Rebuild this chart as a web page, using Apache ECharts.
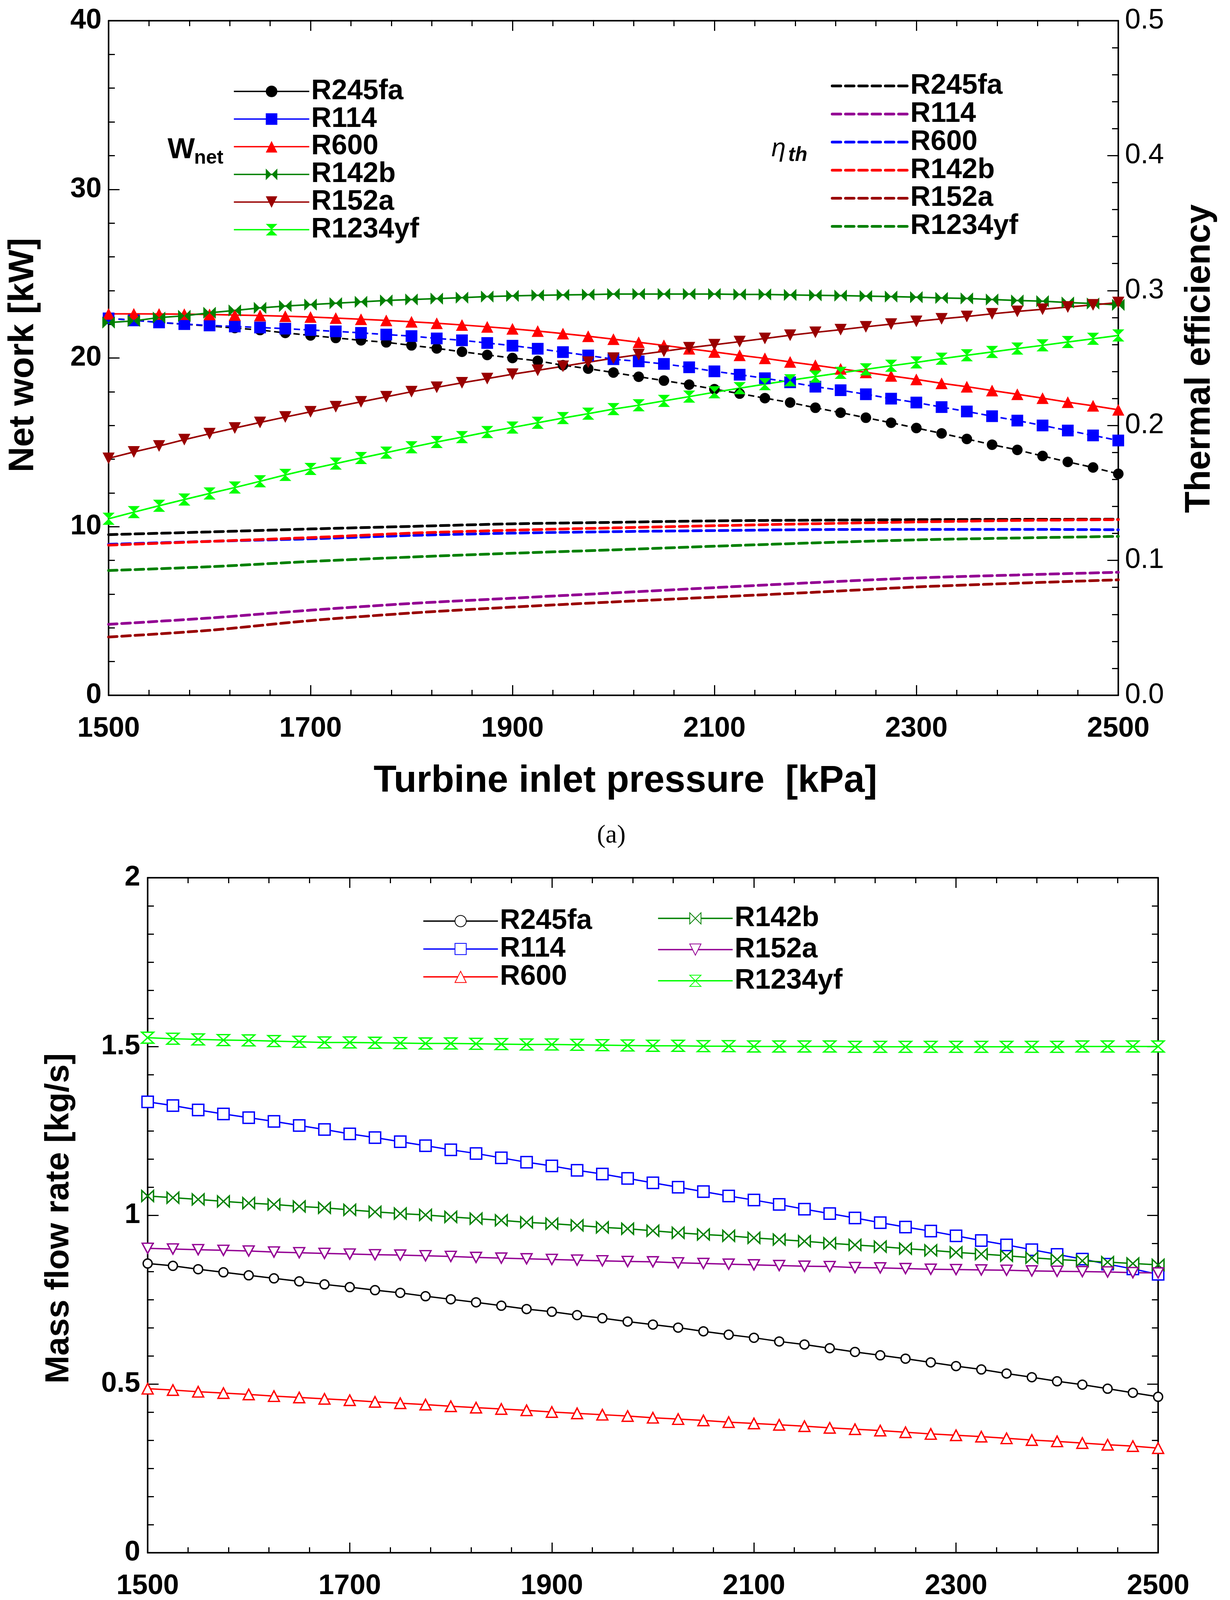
<!DOCTYPE html>
<html>
<head>
<meta charset="utf-8">
<style>
html,body{margin:0;padding:0;background:#fff;}
#c{width:3149px;height:4415px;}
</style>
<script src="https://cdn.jsdelivr.net/npm/echarts@6/dist/echarts.min.js"></script>
</head>
<body>
<div id="c"></div>
<script>
// ---------- data ----------
const pressure = [1500,1525,1550,1575,1600,1625,1650,1675,1700,1725,1750,1775,1800,1825,1850,1875,1900,1925,1950,1975,
  2000,2025,2050,2075,2100,2125,2150,2175,2200,2225,2250,2275,2300,2325,2350,2375,2400,2425,2450,2475,2500];
const pressureEta = [1500,1600,1700,1800,1900,2000,2100,2200,2300,2400,2500];
const refrigerants = ['R245fa','R114','R600','R142b','R152a','R1234yf'];

// (a) net work [kW]
const W_R245fa = [22.35,22.25,22.11,22.0,21.9,21.78,21.66,21.49,21.34,21.19,21.05,20.93,20.75,20.57,20.37,20.18,20.0,19.83,19.57,19.37,
  19.14,18.89,18.66,18.42,18.15,17.89,17.62,17.36,17.05,16.76,16.46,16.16,15.85,15.53,15.2,14.86,14.55,14.19,13.84,13.51,13.13];
const W_R114 = [22.35,22.23,22.11,22.01,21.93,21.87,21.81,21.74,21.66,21.58,21.49,21.39,21.3,21.16,21.05,20.89,20.73,20.55,20.35,20.15,
  19.93,19.8,19.65,19.45,19.21,19.01,18.8,18.56,18.3,18.09,17.85,17.59,17.36,17.09,16.83,16.55,16.29,16.0,15.7,15.41,15.11];
const W_R600 = [22.62,22.62,22.61,22.6,22.58,22.55,22.52,22.48,22.43,22.37,22.3,22.23,22.15,22.06,21.96,21.85,21.73,21.6,21.45,21.29,
  21.12,20.93,20.75,20.55,20.36,20.16,19.98,19.77,19.57,19.36,19.15,18.94,18.73,18.5,18.3,18.07,17.85,17.62,17.38,17.17,16.93];
const W_R142b = [22.1,22.2,22.4,22.5,22.68,22.82,22.97,23.08,23.17,23.25,23.33,23.41,23.47,23.52,23.58,23.64,23.68,23.72,23.74,23.76,
  23.79,23.79,23.79,23.79,23.79,23.77,23.77,23.74,23.72,23.7,23.67,23.64,23.61,23.56,23.53,23.47,23.41,23.37,23.29,23.23,23.15];
const W_R152a = [14.05,14.43,14.78,15.16,15.51,15.85,16.18,16.5,16.81,17.11,17.4,17.7,18.0,18.26,18.53,18.78,19.04,19.27,19.51,19.75,
  19.99,20.2,20.4,20.61,20.79,20.97,21.16,21.35,21.52,21.68,21.85,22.01,22.17,22.32,22.46,22.62,22.76,22.89,23.02,23.15,23.29];
const W_R1234yf = [10.47,10.86,11.24,11.61,11.97,12.32,12.69,13.07,13.42,13.74,14.07,14.39,14.71,15.02,15.31,15.61,15.88,16.16,16.44,16.7,
  16.97,17.2,17.46,17.71,17.97,18.21,18.45,18.68,18.9,19.12,19.33,19.54,19.74,19.96,20.16,20.36,20.56,20.75,20.95,21.14,21.34];

// (a) thermal efficiency [-]
const eta_R245fa = [0.1191,0.1211,0.1233,0.1252,0.1271,0.1282,0.1293,0.1298,0.1302,0.1304,0.1305];
const eta_R114   = [0.0526,0.0573,0.0631,0.0681,0.0720,0.0759,0.0798,0.0836,0.0870,0.0892,0.0912];
const eta_R600   = [0.1119,0.1141,0.1160,0.1185,0.1202,0.1213,0.1221,0.1228,0.1230,0.1230,0.1227];
const eta_R142b  = [0.1113,0.1141,0.1169,0.1202,0.1224,0.1241,0.1257,0.1272,0.1285,0.1296,0.1302];
const eta_R152a  = [0.0432,0.0482,0.0554,0.0610,0.0654,0.0692,0.0728,0.0764,0.0803,0.0831,0.0856];
const eta_R1234yf= [0.0925,0.0953,0.0992,0.1025,0.1053,0.1078,0.1105,0.1130,0.1152,0.1166,0.1178];

// (b) mass flow rate [kg/s]
const m_R245fa = [0.857,0.850,0.840,0.831,0.822,0.813,0.804,0.795,0.787,0.778,0.770,0.760,0.751,0.742,0.732,0.722,0.714,0.704,0.695,0.685,
  0.676,0.667,0.656,0.646,0.637,0.626,0.617,0.606,0.595,0.585,0.575,0.564,0.553,0.543,0.531,0.520,0.508,0.498,0.486,0.474,0.462];
const m_R114 = [1.336,1.325,1.312,1.300,1.289,1.278,1.266,1.254,1.241,1.230,1.218,1.206,1.194,1.183,1.170,1.157,1.146,1.133,1.122,1.109,
  1.096,1.083,1.070,1.057,1.045,1.032,1.018,1.005,0.992,0.978,0.965,0.953,0.939,0.925,0.912,0.898,0.884,0.870,0.855,0.841,0.825];
const m_R600 = [0.486,0.482,0.477,0.473,0.469,0.464,0.460,0.456,0.452,0.447,0.443,0.439,0.434,0.430,0.426,0.422,0.417,0.413,0.409,0.405,
  0.400,0.396,0.392,0.387,0.383,0.379,0.375,0.370,0.366,0.362,0.357,0.352,0.348,0.344,0.339,0.334,0.330,0.325,0.320,0.316,0.310];
const m_R142b = [1.057,1.052,1.047,1.041,1.036,1.032,1.026,1.022,1.016,1.010,1.005,1.001,0.995,0.990,0.985,0.979,0.975,0.970,0.964,0.960,
  0.954,0.948,0.943,0.939,0.933,0.928,0.923,0.917,0.912,0.907,0.901,0.896,0.890,0.885,0.880,0.874,0.869,0.865,0.861,0.857,0.853];
const m_R152a = [0.902,0.900,0.898,0.896,0.894,0.891,0.889,0.887,0.885,0.883,0.882,0.880,0.878,0.875,0.873,0.871,0.869,0.867,0.865,0.863,
  0.862,0.859,0.857,0.855,0.853,0.851,0.849,0.848,0.845,0.844,0.842,0.840,0.839,0.838,0.837,0.835,0.834,0.833,0.832,0.830,0.829];
const m_R1234yf = [1.526,1.523,1.521,1.519,1.518,1.516,1.514,1.512,1.512,1.511,1.510,1.509,1.509,1.508,1.507,1.506,1.506,1.505,1.504,1.503,
  1.502,1.502,1.501,1.501,1.500,1.500,1.500,1.500,1.499,1.499,1.499,1.499,1.499,1.499,1.499,1.499,1.499,1.500,1.500,1.500,1.500];

// ---------- styling ----------
const SANS = '"Liberation Sans", Arial, Helvetica, sans-serif';
const SERIF = '"Liberation Serif", "Times New Roman", serif';
const BOWTIE = 'path://M0,0 L5,5 L0,10 Z M10,0 L5,5 L10,10 Z';
const HOURGLASS = 'path://M0,0 L10,0 L5,5 Z M0,10 L10,10 L5,5 Z';
const DOWNTRI = 'path://M0,0 L10,0 L5,10 Z';

const colW   = {R245fa:'#000000', R114:'#0000ff', R600:'#ff0000', R142b:'#008000', R152a:'#990000', R1234yf:'#00ff00'};
const colEta = {R245fa:'#000000', R114:'#930093', R600:'#0000ff', R142b:'#ff0000', R152a:'#990000', R1234yf:'#008000'};
const colM   = {R245fa:'#000000', R114:'#0000ff', R600:'#ff0000', R142b:'#008000', R152a:'#930093', R1234yf:'#00ff00'};
const symA = {R245fa:['circle',[27,27]], R114:['rect',[30,30]], R600:['triangle',[31,30]], R142b:[BOWTIE,[32,31]], R152a:[DOWNTRI,[31,30]], R1234yf:[HOURGLASS,[31,31]]};
const symB = {R245fa:['circle',[23,23]], R114:['rect',[29,29]], R600:['triangle',[28,27]], R142b:[BOWTIE,[30,28]], R152a:[DOWNTRI,[28,26]], R1234yf:[HOURGLASS,[31,28]]};

const Wdata = {R245fa:W_R245fa, R114:W_R114, R600:W_R600, R142b:W_R142b, R152a:W_R152a, R1234yf:W_R1234yf};
const Edata = {R245fa:eta_R245fa, R114:eta_R114, R600:eta_R600, R142b:eta_R142b, R152a:eta_R152a, R1234yf:eta_R1234yf};
const Mdata = {R245fa:m_R245fa, R114:m_R114, R600:m_R600, R142b:m_R142b, R152a:m_R152a, R1234yf:m_R1234yf};

const pairs = (xs, ys) => xs.map((x, i) => [x, ys[i]]);

function xAxisDef(grid, pos, labels) {
  return {
    type:'value', gridIndex:grid, position:pos, min:1500, max:2500, interval:200,
    axisLine:{show:true, onZero:false, lineStyle:{color:'#000', width:4}},
    axisTick:{show:true, inside:true, length:26, lineStyle:{color:'#000', width:3}},
    minorTick:{show:true, splitNumber:5, length:14, lineStyle:{color:'#000', width:3}},
    splitLine:{show:false}, minorSplitLine:{show:false},
    axisLabel:{show:labels, margin:50, color:'#000', fontFamily:SANS, fontWeight:'bold', fontSize:72,
      showMinLabel:true, showMaxLabel:true, formatter:v => String(v)}
  };
}
function yAxisDef(grid, pos, min, max, interval, minorSplit, labelOpt) {
  return {
    type:'value', gridIndex:grid, position:pos, min:min, max:max, interval:interval,
    axisLine:{show:true, onZero:false, lineStyle:{color:'#000', width:4}},
    axisTick:{show:true, inside:true, length:28, lineStyle:{color:'#000', width:3}},
    minorTick:{show:true, splitNumber:minorSplit, length:16, lineStyle:{color:'#000', width:3}},
    splitLine:{show:false}, minorSplitLine:{show:false},
    axisLabel: labelOpt ? Object.assign({margin:18, color:'#000', fontFamily:SANS, fontSize:72, showMinLabel:true, showMaxLabel:true}, labelOpt) : {show:false}
  };
}

const series = [];
// efficiency dashed lines (right axis of chart a)
refrigerants.forEach(r => {
  series.push({
    name:'η ' + r, type:'line', xAxisIndex:0, yAxisIndex:1,
    data:pairs(pressureEta, Edata[r]), showSymbol:false, symbol:'none', smooth:0.3,
    lineStyle:{color:colEta[r], width:7, type:[22,12], cap:'round'},
    itemStyle:{color:colEta[r]}, z:2, animation:false
  });
});
// net work lines with filled markers
refrigerants.forEach(r => {
  const dashed = (r === 'R245fa' || r === 'R114');
  series.push({
    name:'W ' + r, type:'line', xAxisIndex:0, yAxisIndex:0,
    data:pairs(pressure, Wdata[r]), symbol:symA[r][0], symbolSize:symA[r][1], showAllSymbol:true,
    lineStyle:{color:colW[r], width:4, type: dashed ? [16,9] : 'solid'},
    itemStyle:{color:colW[r], borderWidth:0}, z:3, animation:false
  });
});
// mass flow lines with hollow markers
refrigerants.forEach(r => {
  series.push({
    name:'m ' + r, type:'line', xAxisIndex:2, yAxisIndex:2,
    data:pairs(pressure, Mdata[r]), symbol:symB[r][0], symbolSize:symB[r][1], showAllSymbol:true,
    lineStyle:{color:colM[r], width:3.5},
    itemStyle:{color:'#ffffff', borderColor:colM[r], borderWidth:3.5}, z:3, animation:false
  });
});

const strip = n => n.slice(2);
function legendDef(names, left, top, gap, width, h, extra) {
  return Object.assign({
    data:names, orient:'vertical', left:left, top:top, itemGap:gap, itemWidth:width, itemHeight:h,
    padding:0, selectedMode:false, formatter:strip,
    textStyle:{color:'#000', fontFamily:SANS, fontWeight:'bold', fontSize:72},
    inactiveColor:'#000'
  }, extra || {});
}

const option = {
  backgroundColor:'#ffffff',
  animation:false,
  grid:[
    {left:278, top:53, width:2585, height:1727, outerBoundsMode:'none', containLabel:false},
    {left:378, top:2247, width:2587, height:1728, outerBoundsMode:'none', containLabel:false}
  ],
  xAxis:[ xAxisDef(0,'bottom',true), xAxisDef(0,'top',false), xAxisDef(1,'bottom',true), xAxisDef(1,'top',false) ],
  yAxis:[
    yAxisDef(0,'left',0,40,10,5,{fontWeight:'bold'}),
    yAxisDef(0,'right',0,0.5,0.1,5,{fontWeight:'normal', margin:17, formatter:v => v.toFixed(1)}),
    yAxisDef(1,'left',0,2,0.5,6,{fontWeight:'bold', margin:19}),
    yAxisDef(1,'right',0,2,0.5,6,null)
  ],
  legend:[
    legendDef(refrigerants.map(r => 'W ' + r), 597, 198, -1.2, 193, 37, {lineStyle:{type:'solid', width:3.5}}),
    legendDef(refrigerants.map(r => 'η ' + r), 2127, 184, -0.1, 195, 37,
      {lineStyle:{width:7, type:[22,12], cap:'round'}, itemStyle:{opacity:0, color:'rgba(0,0,0,0)', borderWidth:0}}),
    legendDef(['m R245fa','m R114','m R600'], 1082, 2322, -0.6, 191, 36, {lineStyle:{width:3.5}}),
    legendDef(['m R142b','m R152a','m R1234yf'], 1683, 2315, 7.9, 191, 36, {lineStyle:{width:3.5}})
  ],
  graphic:[
    {type:'text', x:1601, y:2001, style:{text:'Turbine inlet pressure  [kPa]', fill:'#000', font:'bold 96px ' + SANS, align:'center', verticalAlign:'middle', textAlign:'center', textVerticalAlign:'middle'}},
    {type:'text', x:1703, y:4215, style:{text:'Turbine inlet pressure  [kPa]', fill:'#000', font:'bold 96px ' + SANS, align:'center', verticalAlign:'middle', textAlign:'center', textVerticalAlign:'middle'}},
    {type:'text', x:60, y:909, rotation:Math.PI/2, style:{text:'Net work [kW]', fill:'#000', font:'bold 90px ' + SANS, align:'center', verticalAlign:'middle', textAlign:'center', textVerticalAlign:'middle'}},
    {type:'text', x:3072, y:918, rotation:Math.PI/2, style:{text:'Thermal efficiency', fill:'#000', font:'bold 90px ' + SANS, align:'center', verticalAlign:'middle', textAlign:'center', textVerticalAlign:'middle'}},
    {type:'text', x:151, y:3119, rotation:Math.PI/2, style:{text:'Mass flow rate [kg/s]', fill:'#000', font:'bold 86px ' + SANS, align:'center', verticalAlign:'middle', textAlign:'center', textVerticalAlign:'middle'}},
    {type:'text', x:1565, y:2140, style:{text:'(a)', fill:'#000', font:'66px ' + SERIF, align:'center', verticalAlign:'middle', textAlign:'center', textVerticalAlign:'middle'}},
    {type:'text', x:1565, y:4356, style:{text:'(b)', fill:'#000', font:'66px ' + SERIF, align:'center', verticalAlign:'middle', textAlign:'center', textVerticalAlign:'middle'}},
    {type:'text', x:429, y:385, style:{text:'W', fill:'#000', font:'bold 74px ' + SANS, align:'left', verticalAlign:'middle', textAlign:'left', textVerticalAlign:'middle'}},
    {type:'text', x:497, y:405, style:{text:'net', fill:'#000', font:'bold 50px ' + SANS, align:'left', verticalAlign:'middle', textAlign:'left', textVerticalAlign:'middle'}},
    {type:'text', x:1975, y:382, style:{text:'η', fill:'#000', font:'italic 66px ' + SANS, align:'left', verticalAlign:'middle', textAlign:'left', textVerticalAlign:'middle'}},
    {type:'text', x:2018, y:398, style:{text:'th', fill:'#000', font:'italic bold 52px ' + SANS, align:'left', verticalAlign:'middle', textAlign:'left', textVerticalAlign:'middle'}}
  ],
  series:series
};

const chart = echarts.init(document.getElementById('c'), null, {renderer:'canvas', width:3149, height:4415});
chart.setOption(option);
</script>
</body>
</html>
